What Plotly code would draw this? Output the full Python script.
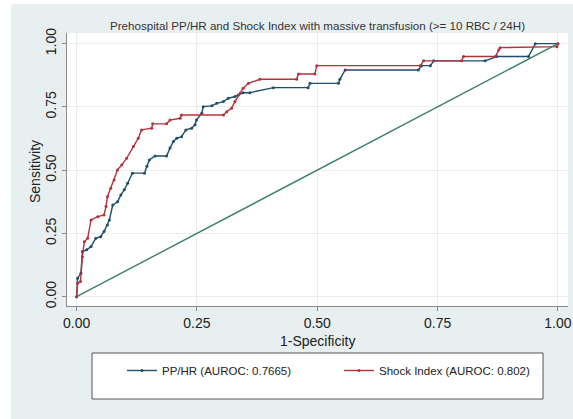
import plotly.graph_objects as go

# ---- data ----
pphr_fpr = [0.000, 0.002, 0.009, 0.012, 0.021, 0.030, 0.040, 0.050, 0.057, 0.064,
            0.068, 0.075, 0.085, 0.092, 0.099, 0.106, 0.116, 0.141, 0.146, 0.151,
            0.163, 0.187, 0.194, 0.201, 0.208, 0.218, 0.227, 0.239, 0.246, 0.249,
            0.260, 0.263, 0.281, 0.291, 0.305, 0.315, 0.329, 0.336, 0.346, 0.360,
            0.409, 0.481, 0.485, 0.544, 0.547, 0.558, 0.710, 0.717, 0.735, 0.742,
            0.849, 0.873, 0.939, 0.953, 1.000]
pphr_tpr = [0.000, 0.073, 0.092, 0.178, 0.185, 0.198, 0.231, 0.237, 0.257, 0.283,
            0.303, 0.362, 0.375, 0.402, 0.422, 0.448, 0.488, 0.488, 0.515, 0.540,
            0.556, 0.556, 0.587, 0.613, 0.626, 0.632, 0.659, 0.666, 0.679, 0.698,
            0.725, 0.751, 0.754, 0.764, 0.771, 0.784, 0.791, 0.797, 0.806, 0.806,
            0.826, 0.826, 0.843, 0.843, 0.859, 0.896, 0.896, 0.913, 0.913, 0.932,
            0.932, 0.949, 0.949, 1.000, 1.000]

si_fpr = [0.000, 0.002, 0.008, 0.012, 0.016, 0.023, 0.030, 0.044, 0.057, 0.061,
          0.064, 0.071, 0.078, 0.085, 0.094, 0.104, 0.118, 0.128, 0.135, 0.156,
          0.158, 0.187, 0.194, 0.215, 0.218, 0.305, 0.312, 0.322, 0.329, 0.340,
          0.346, 0.357, 0.381, 0.457, 0.461, 0.495, 0.499, 0.714, 0.721, 0.800,
          0.804, 0.870, 0.877, 0.880, 0.998, 1.000]
si_tpr = [0.000, 0.053, 0.060, 0.158, 0.217, 0.231, 0.303, 0.316, 0.323, 0.356,
          0.395, 0.428, 0.461, 0.501, 0.521, 0.547, 0.593, 0.626, 0.659, 0.666,
          0.683, 0.683, 0.698, 0.705, 0.718, 0.718, 0.731, 0.745, 0.771, 0.804,
          0.824, 0.843, 0.859, 0.859, 0.880, 0.880, 0.913, 0.913, 0.932, 0.932,
          0.949, 0.949, 0.975, 0.984, 0.988, 1.000]

ref_x = [0, 1]
ref_y = [0, 1]

tick_vals = [0, 0.25, 0.5, 0.75, 1.0]
tick_text = ["0.00", "0.25", "0.50", "0.75", "1.00"]

BLUE = "#1D4E6B"
RED = "#B2333C"
GREEN = "#3A7F6A"
BG = "#E8EFF0"
FONT = "Liberation Sans, Arial, sans-serif"

W, H = 573, 419
L, R, T, B = 67, 5, 33, 113
PW, PH = W - L - R, H - T - B


def px_x(p):
    return (p - L) / PW


def px_y(p):
    return (H - B - p) / PH


fig = go.Figure()
fig.add_trace(go.Scatter(x=pphr_fpr, y=pphr_tpr, mode="lines+markers",
                         name="PP/HR (AUROC: 0.7665)", legend="legend",
                         line=dict(color=BLUE, width=1.4),
                         marker=dict(color=BLUE, size=3)))
fig.add_trace(go.Scatter(x=si_fpr, y=si_tpr, mode="lines+markers",
                         name="Shock Index (AUROC: 0.802)", legend="legend2",
                         line=dict(color=RED, width=1.4),
                         marker=dict(color=RED, size=3)))
fig.add_trace(go.Scatter(x=ref_x, y=ref_y, mode="lines", showlegend=False,
                         line=dict(color=GREEN, width=1.4)))

shapes = [
    # white strips at left and top edge of the picture
    dict(type="rect", xref="paper", yref="paper", x0=px_x(0), x1=px_x(11),
         y0=px_y(H), y1=px_y(0), fillcolor="white", line=dict(width=0), layer="below"),
    dict(type="rect", xref="paper", yref="paper", x0=px_x(0), x1=px_x(W),
         y0=px_y(4), y1=px_y(0), fillcolor="white", line=dict(width=0), layer="below"),
    # legend box
    dict(type="rect", xref="paper", yref="paper", x0=px_x(92), x1=px_x(543),
         y0=px_y(399), y1=px_y(353), fillcolor="white",
         line=dict(color="#555555", width=1), layer="below"),
]

axis_common = dict(
    automargin=False, tickmode="array", tickvals=tick_vals, ticktext=tick_text,
    showgrid=True, gridcolor="#ECECEC", gridwidth=1, zeroline=False,
    showline=True, linecolor="#8A8A8A", linewidth=1,
    ticks="outside", ticklen=4, tickcolor="#8A8A8A",
    tickfont=dict(family=FONT, size=14, color="#222222"),
)

annotations = [
    dict(text="1-Specificity", xref="paper", yref="paper",
         x=0.5, y=px_y(341), xanchor="center", yanchor="middle", showarrow=False,
         font=dict(family=FONT, size=14, color="#222222")),
    dict(text="Sensitivity", xref="paper", yref="paper", textangle=-90,
         x=px_x(35), y=px_y(172), xanchor="center", yanchor="middle", showarrow=False,
         font=dict(family=FONT, size=14, color="#222222")),
]

fig.update_layout(
    width=W, height=H,
    margin=dict(l=L, r=R, t=T, b=B, pad=0, autoexpand=False),
    paper_bgcolor=BG, plot_bgcolor="white",
    font=dict(family=FONT, color="#222222"),
    title=dict(text="Prehospital PP/HR and Shock Index with massive transfusion (>= 10 RBC / 24H)",
               x=0.5, xref="paper", y=1 - 26 / H, yref="container",
               xanchor="center", yanchor="middle",
               font=dict(family=FONT, size=11.6, color="#333333")),
    xaxis=dict(axis_common, range=[-0.02, 1.021]),
    yaxis=dict(axis_common, range=[-0.037, 1.042], tickangle=-90),
    shapes=shapes,
    annotations=annotations,
    showlegend=True,
    legend=dict(x=px_x(122), y=px_y(356), xanchor="left", yanchor="top",
                bgcolor="rgba(0,0,0,0)", borderwidth=0,
                font=dict(family=FONT, size=11.5, color="#222222")),
    legend2=dict(x=px_x(339), y=px_y(356), xanchor="left", yanchor="top",
                 bgcolor="rgba(0,0,0,0)", borderwidth=0,
                 font=dict(family=FONT, size=11.5, color="#222222")),
)

fig.write_html("out.html",
               config={"displayModeBar": False},
               post_script="document.body.style.margin='0';document.body.style.padding='0';"
                           "document.documentElement.style.overflow='hidden';")
